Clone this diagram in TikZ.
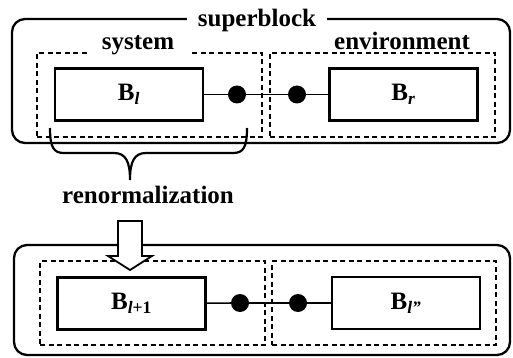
\documentclass[tikz,border=0pt]{standalone}
\usepackage{fontspec}
\setmainfont{Liberation Serif}

\begin{document}
\begin{tikzpicture}[
  x=1pt,y=-1pt,
  font=\fontsize{25}{30}\selectfont\bfseries,
  outer/.style={draw,line width=2.3pt,rounded corners=13pt,inner sep=0pt},
  half/.style={draw,line width=2.4pt,dash pattern=on 5pt off 3.5pt,inner sep=0pt,
    minimum width=225pt,minimum height=84pt},
  blk/.style={draw,line width=2.3pt,minimum width=148pt,minimum height=52pt,inner sep=0pt},
  site/.style={circle,fill,inner sep=0pt,minimum size=18pt},
  tag/.style={fill=white,inner ysep=2pt,inner xsep=12pt,anchor=base}
]
  \useasboundingbox (0,0) rectangle (513,358);

  % upper superblock
  \node[outer,minimum width=498pt,minimum height=124pt] (sb-top) at (261,81) {};
  \node[half] (sys) at (149.5,95) {};
  \node[half] (env) at (382.5,95) {};
  \node[tag,inner xsep=11pt] (sb-top-name) at (257,27) {superblock};
  \node[tag,inner xsep=15pt] (sys-name) at (138,50) {system};
  \node[tag] (env-name) at (402,50) {environment};

  \node[blk] (bl) at (129,94.5) {B\textsubscript{\textit{l}}};
  \node[blk] (br) at (403.5,94.5) {B\textsubscript{\textit{r}}};
  \node[site] (s1) at (237,94.5) {};
  \node[site] (s2) at (297,94.5) {};
  \draw[line width=1.6pt] (bl) -- (s1) -- (s2) -- (br);

  % brace under the system
  \draw[line width=2.2pt] (50,128) .. controls (50,148) and (54,153) .. (64,153)
    -- (114,153) .. controls (126,153) and (130,162) .. (130,180)
    .. controls (130,162) and (134,153) .. (146,153)
    -- (233,153) .. controls (243,153) and (247,148) .. (247,128);
  \node[anchor=base] (renorm) at (148,203) {renormalization};

  % lower superblock
  \node[outer,minimum width=496pt,minimum height=110pt] (sb-bot) at (262,300) {};
  \node[half] (sys2) at (152.5,303) {};
  \node[half,minimum width=224pt] (env2) at (384,303) {};
  \node[blk] (bl2) at (131.5,303.5) {B\textsubscript{\textit{l}+1}};
  \node[blk] (br2) at (406,303) {B\textsubscript{\textit{l''}}};
  \node[site] (t1) at (240,303) {};
  \node[site] (t2) at (298,303) {};
  \draw[line width=1.6pt] (bl2) -- (t1) -- (t2) -- (br2);

  % hollow arrow
  \draw[line width=1.8pt,fill=white] (118,221) -- (142,221) -- (142,256)
    -- (152,256) -- (130,270) -- (108,256) -- (118,256) -- cycle;
\end{tikzpicture}
\end{document}
